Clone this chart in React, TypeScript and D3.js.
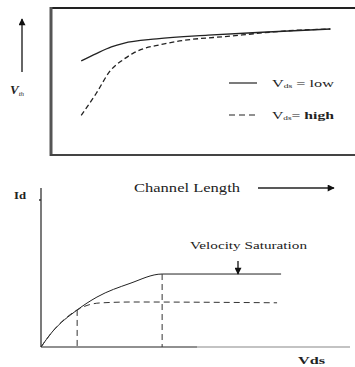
import * as d3 from "d3";
import React, { useEffect, useRef } from "react";

// Top panel: threshold voltage vs channel length (arbitrary units 0..10)
const vthLow: [number, number][] = [
  [1.0, 6.4], [1.5, 6.9], [2.0, 7.35], [2.4, 7.6], [3.5, 7.9], [5.2, 8.15], [7.0, 8.35], [9.25, 8.57],
];
const vthHigh: [number, number][] = [
  [1.0, 2.7], [1.5, 4.2], [1.95, 5.7], [2.4, 6.5], [2.7, 6.9], [3.85, 7.6], [6.0, 8.1], [8.25, 8.5], [9.25, 8.57],
];

// Bottom panel: Id vs Vds
const idLong: [number, number][] = [
  [0, 0], [0.36, 0.94], [1.17, 2.33], [1.81, 3.14], [2.88, 4.0], [3.92, 4.59], [7.77, 4.59],
];
const idShort: [number, number][] = [
  [0, 0], [0.36, 0.94], [1.17, 2.33], [1.9, 2.77], [2.98, 2.83], [7.64, 2.78],
];
const satPoints: [number, number][] = [
  [1.17, 2.33], [3.92, 4.59],
];

const App: React.FC = () => {
  const svgRef = useRef<SVGSVGElement | null>(null);

  useEffect(() => {
    const svg = d3.select(svgRef.current);
    svg.selectAll("*").remove();
    const font = "Liberation Serif, DejaVu Serif, serif";

    const defs = svg.append("defs");
    defs
      .append("marker")
      .attr("id", "head")
      .attr("viewBox", "0 0 10 10")
      .attr("refX", 9)
      .attr("refY", 5)
      .attr("markerWidth", 8)
      .attr("markerHeight", 7)
      .attr("markerUnits", "userSpaceOnUse")
      .attr("orient", "auto")
      .append("path")
      .attr("d", "M0,0 L10,5 L0,10 Z")
      .attr("fill", "#111");

    // ---------- top panel ----------
    const x1 = d3.scaleLinear().domain([0, 10]).range([51, 353]);
    const y1 = d3.scaleLinear().domain([0, 10]).range([155, 8]);

    // frame
    svg.append("line").attr("x1", 51).attr("x2", 355).attr("y1", 8).attr("y2", 8)
      .attr("stroke", "#222").attr("stroke-width", 2);
    svg.append("line").attr("x1", 51).attr("x2", 51).attr("y1", 7).attr("y2", 156)
      .attr("stroke", "#555").attr("stroke-width", 3);
    svg.append("line").attr("x1", 50).attr("x2", 355).attr("y1", 155).attr("y2", 155)
      .attr("stroke", "#444").attr("stroke-width", 2);

    const line1 = d3.line<[number, number]>()
      .x((d) => x1(d[0]))
      .y((d) => y1(d[1]))
      .curve(d3.curveMonotoneX);

    svg.append("path").attr("d", line1(vthLow)!).attr("fill", "none")
      .attr("stroke", "#222").attr("stroke-width", 1.3);
    svg.append("path").attr("d", line1(vthHigh)!).attr("fill", "none")
      .attr("stroke", "#222").attr("stroke-width", 1.3).attr("stroke-dasharray", "5,3");

    // y arrow + label
    svg.append("line").attr("x1", 22).attr("x2", 22).attr("y1", 72).attr("y2", 19)
      .attr("stroke", "#333").attr("stroke-width", 1.5).attr("marker-end", "url(#head)");
    const vth = svg.append("text").attr("x", 10).attr("y", 94).attr("font-family", font)
      .attr("font-style", "italic").attr("font-weight", "bold").attr("font-size", 13).attr("fill", "#222");
    vth.append("tspan").text("V");
    vth.append("tspan").attr("font-size", 7).attr("dy", 2).attr("font-weight", "normal").text("th");

    // legend
    svg.append("line").attr("x1", 229).attr("x2", 257).attr("y1", 83).attr("y2", 83)
      .attr("stroke", "#222").attr("stroke-width", 1.2);
    svg.append("line").attr("x1", 229).attr("x2", 257).attr("y1", 115).attr("y2", 115)
      .attr("stroke", "#222").attr("stroke-width", 1.2).attr("stroke-dasharray", "6,4");
    const l1 = svg.append("text").attr("x", 272).attr("y", 87).attr("font-family", font)
      .attr("font-size", 11).attr("textLength", 62).attr("lengthAdjust", "spacingAndGlyphs")
      .attr("fill", "#222");
    l1.append("tspan").text("V");
    l1.append("tspan").attr("font-size", 6.5).attr("dy", 1).text("ds");
    l1.append("tspan").attr("dy", -1).text(" = low");
    const l2 = svg.append("text").attr("x", 272).attr("y", 119).attr("font-family", font)
      .attr("font-size", 11).attr("textLength", 62).attr("lengthAdjust", "spacingAndGlyphs")
      .attr("fill", "#222");
    l2.append("tspan").text("V");
    l2.append("tspan").attr("font-size", 6.5).attr("dy", 1).text("ds");
    l2.append("tspan").attr("dy", -1).text("= ");
    l2.append("tspan").attr("font-weight", "bold").text("high");

    // x label + arrow
    svg.append("text").attr("x", 134).attr("y", 192).attr("font-family", font)
      .attr("font-size", 13).attr("textLength", 106).attr("lengthAdjust", "spacingAndGlyphs")
      .attr("fill", "#222").text("Channel Length");
    svg.append("line").attr("x1", 258).attr("x2", 334).attr("y1", 188).attr("y2", 188)
      .attr("stroke", "#222").attr("stroke-width", 1.3).attr("marker-end", "url(#head)");

    // ---------- bottom panel ----------
    const x2 = d3.scaleLinear().domain([0, 10]).range([41, 350]);
    const y2 = d3.scaleLinear().domain([0, 10]).range([347, 188]);

    svg.append("line").attr("x1", x2(0)).attr("x2", x2(0)).attr("y1", 188).attr("y2", y2(0))
      .attr("stroke", "#222").attr("stroke-width", 1.2);
    svg.append("line").attr("x1", x2(0)).attr("x2", 197).attr("y1", y2(0)).attr("y2", y2(0))
      .attr("stroke", "#222").attr("stroke-width", 1.2);
    svg.append("line").attr("x1", 197).attr("x2", 350).attr("y1", y2(0)).attr("y2", y2(0))
      .attr("stroke", "#888").attr("stroke-width", 1.2);
    svg.append("circle").attr("cx", 40).attr("cy", 200).attr("r", 1).attr("fill", "#333");

    const line2 = d3.line<[number, number]>()
      .x((d) => x2(d[0]))
      .y((d) => y2(d[1]))
      .curve(d3.curveMonotoneX);

    svg.append("path").attr("d", line2(idLong)!).attr("fill", "none")
      .attr("stroke", "#222").attr("stroke-width", 1);
    svg.append("path").attr("d", line2(idShort)!).attr("fill", "none")
      .attr("stroke", "#333").attr("stroke-width", 1).attr("stroke-dasharray", "6,4");

    svg.selectAll(".sat")
      .data(satPoints)
      .enter()
      .append("line")
      .attr("class", "sat")
      .attr("x1", (d) => x2(d[0]))
      .attr("x2", (d) => x2(d[0]))
      .attr("y1", (d) => y2(d[1]))
      .attr("y2", y2(0))
      .attr("stroke", "#333")
      .attr("stroke-width", 1)
      .attr("stroke-dasharray", "6,4");

    svg.append("line").attr("x1", 238).attr("x2", 238).attr("y1", 261).attr("y2", 274)
      .attr("stroke", "#111").attr("stroke-width", 1.3).attr("marker-end", "url(#head)");
    svg.append("text").attr("x", 190).attr("y", 249).attr("font-family", font)
      .attr("font-size", 11).attr("textLength", 117).attr("lengthAdjust", "spacingAndGlyphs")
      .attr("fill", "#222").text("Velocity Saturation");

    svg.append("text").attr("x", 14).attr("y", 199).attr("font-family", font)
      .attr("font-size", 10).attr("font-weight", "bold").attr("textLength", 12)
      .attr("lengthAdjust", "spacingAndGlyphs").attr("fill", "#222").text("Id");
    svg.append("text").attr("x", 298).attr("y", 364).attr("font-family", font)
      .attr("font-size", 11).attr("font-weight", "bold").attr("textLength", 27)
      .attr("lengthAdjust", "spacingAndGlyphs").attr("fill", "#222").text("Vds");
  }, []);

  return (
    <svg
      ref={svgRef}
      width={355}
      height={367}
      style={{ position: "absolute", left: 0, top: 0, background: "#fff" }}
    ></svg>
  );
};

export default App;
